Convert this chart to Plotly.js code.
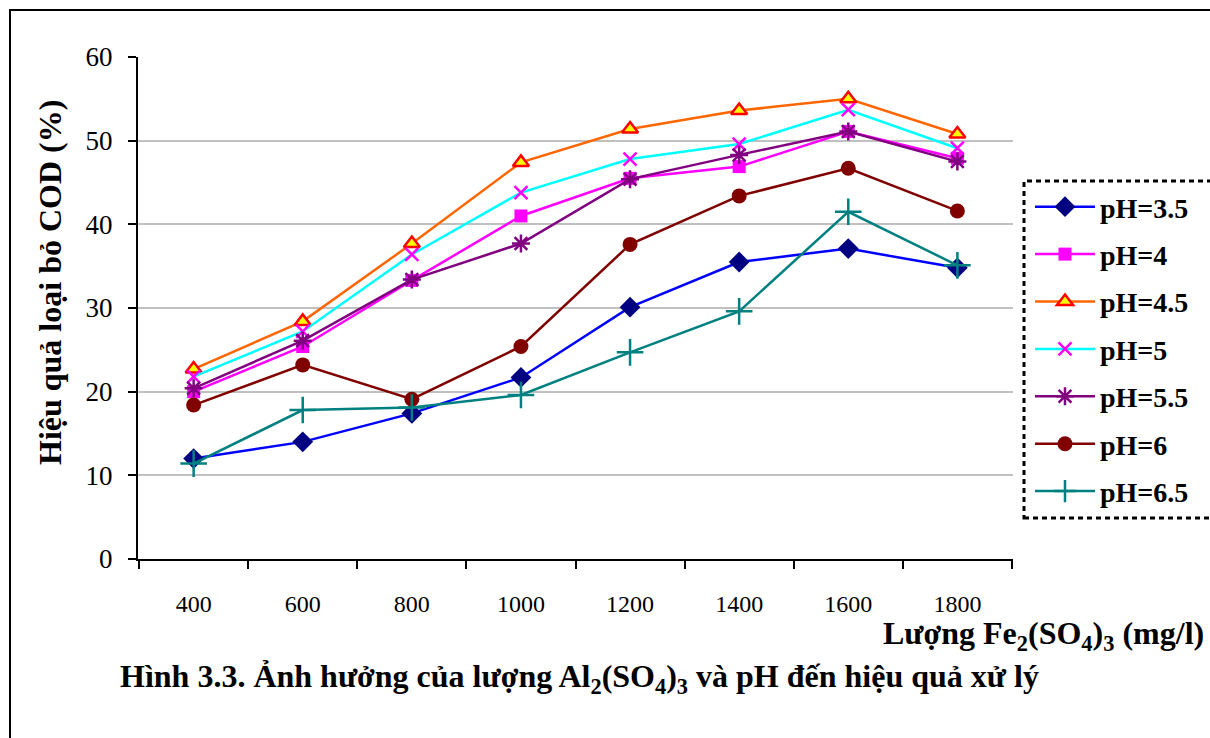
<!DOCTYPE html>
<html><head><meta charset="utf-8">
<script src="https://cdn.plot.ly/plotly-3.0.1.min.js"></script>
<style>html,body{margin:0;padding:0;background:#fff}#chart{width:1210px;height:738px}</style>
</head><body><div id="chart"></div>
<script>
const doses = ['400','600','800','1000','1200','1400','1600','1800'];
const ph35 = [12.0, 14.0, 17.4, 21.7, 30.1, 35.5, 37.1, 34.8];
const ph4  = [20.0, 25.4, 33.3, 41.0, 45.5, 46.9, 51.1, 47.9];
const ph45 = [22.7, 28.4, 37.7, 47.4, 51.4, 53.6, 55.0, 50.8];
const ph5  = [21.8, 27.2, 36.4, 43.8, 47.8, 49.6, 53.7, 49.1];
const ph55 = [20.4, 26.1, 33.4, 37.7, 45.4, 48.3, 51.1, 47.5];
const ph6  = [18.4, 23.2, 19.1, 25.4, 37.6, 43.4, 46.7, 41.6];
const ph65 = [11.4, 17.8, 18.1, 19.6, 24.7, 29.6, 41.5, 35.1];
const names = ['pH=3.5','pH=4','pH=4.5','pH=5','pH=5.5','pH=6','pH=6.5'];

const serif = '"Liberation Serif", "Times New Roman", serif';
function tr(y, name, i, lineColor, marker){
  return {x: doses, y: y, name: '<b>' + name + '</b>', type:'scatter', mode:'lines+markers',
    legendgroup: 'g'+i,
    line:{color:lineColor, width:2.5}, marker: marker, cliponaxis:false};
}
const data = [
  tr(ph35, names[0], 0, '#0000FF', {symbol:'diamond', size:16, color:'#000080'}),
  tr(ph4,  names[1], 1, '#FF00FF', {symbol:'square', size:13, color:'#FF00FF'}),
  tr(ph45, names[2], 2, '#FF6600', {symbol:'triangle-up', size:14, color:'#FFFF00', line:{color:'#FF0000', width:2.5}}),
  tr(ph5,  names[3], 3, '#00FFFF', {symbol:'x-thin-open', size:13, color:'#FF00FF', line:{color:'#FF00FF', width:2.5}}),
  tr(ph55, names[4], 4, '#800080', {symbol:'asterisk-open', size:15, color:'#800080', line:{color:'#800080', width:2.5}}),
  tr(ph6,  names[5], 5, '#800000', {symbol:'circle', size:15, color:'#800000'}),
  tr(ph65, names[6], 6, '#008080', {symbol:'cross-thin-open', size:19, color:'#008080', line:{color:'#008080', width:2.5}})
];

const layout = {
  width:1210, height:738,
  margin:{l:138, r:197, t:57, b:179},
  paper_bgcolor:'#fff', plot_bgcolor:'#fff',
  showlegend:true,
  font:{family:serif, color:'#000'},
  title:{text:'<b>Hình 3.3. Ảnh hưởng của lượng Al<sub>2</sub>(SO<sub>4</sub>)<sub>3</sub> và pH đến hiệu quả xử lý</b>',
    x:120/1210, xanchor:'left', xref:'container', y:(738-676)/738, yanchor:'middle', yref:'container',
    font:{family:serif, size:32, color:'#000'}},
  xaxis:{type:'category', tickson:'boundaries', ticks:'outside', ticklen:8, tickwidth:2, tickcolor:'#000',
    showline:true, linecolor:'#000', linewidth:2, showgrid:false, zeroline:false,
    tickfont:{family:serif, size:24, color:'#000'}, ticklabelstandoff:22, fixedrange:true},
  yaxis:{range:[0,60], dtick:10, ticks:'outside', ticklen:8, tickwidth:2, tickcolor:'#000',
    showline:true, linecolor:'#000', linewidth:2, showgrid:true, gridcolor:'#c0c0c0', gridwidth:2,
    zeroline:false, tickfont:{family:serif, size:27, color:'#000'}, ticklabelstandoff:10, fixedrange:true},
  legend:{x:(1030-138)/875, xanchor:'left', y:(559-182)/502, yanchor:'top',
    font:{family:serif, size:28, color:'#000', weight:'bold'}, bgcolor:'rgba(0,0,0,0)', borderwidth:0,
    tracegroupgap:8, itemwidth:60, traceorder:'grouped'},
  annotations:[
    {text:'<b>Hiệu quả loại bỏ COD (%)</b>', textangle:-90, xref:'paper', yref:'paper',
     x:(50-138)/875, y:(559-283)/502, xanchor:'center', yanchor:'middle', showarrow:false,
     font:{family:serif, size:32, color:'#000'}},
    {text:'<b>Lượng Fe<sub>2</sub>(SO<sub>4</sub>)<sub>3</sub> (mg/l)</b>', xref:'paper', yref:'paper',
     x:(1206-138)/875, y:(559-635)/502, xanchor:'right', yanchor:'middle', showarrow:false,
     font:{family:serif, size:32, color:'#000'}}
  ],
  shapes:[
    {type:'rect', xref:'paper', yref:'paper', x0:(10-138)/875, x1:(1215-138)/875, y0:(559-745)/502, y1:(559-10)/502,
     line:{color:'#000', width:2}, fillcolor:'rgba(0,0,0,0)', layer:'below'},
    {type:'rect', xref:'paper', yref:'paper', x0:(1024-138)/875, x1:(1215-138)/875, y0:(559-518)/502, y1:(559-181)/502,
     line:{color:'#000', width:3, dash:'5px,4px'}, fillcolor:'rgba(0,0,0,0)'}
  ]
};
Plotly.newPlot('chart', data, layout, {displayModeBar:false, staticPlot:true});
</script></body></html>
